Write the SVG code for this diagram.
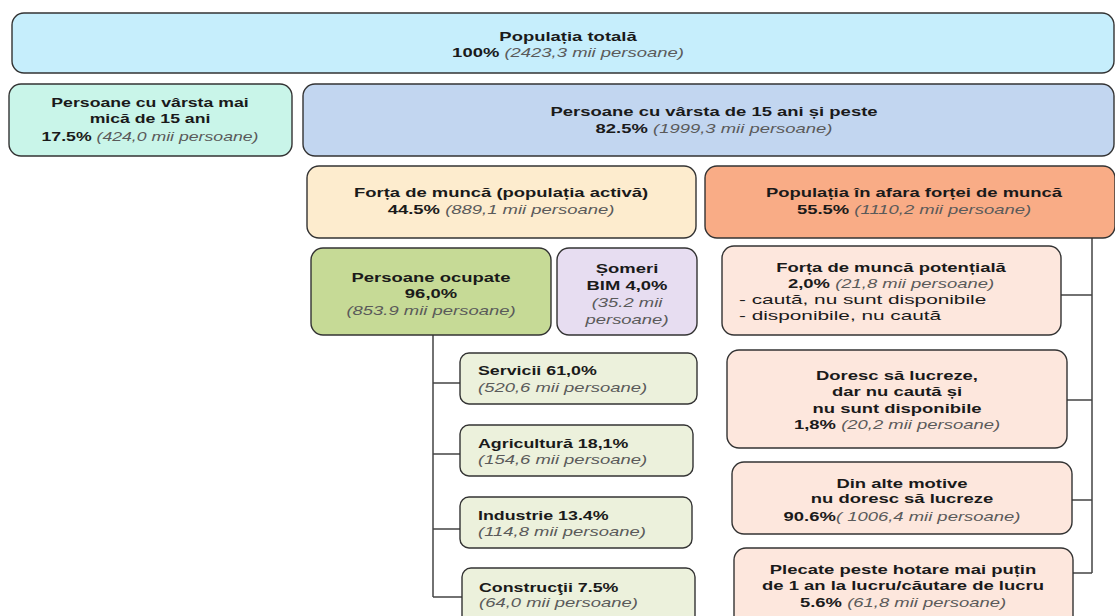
<svg xmlns="http://www.w3.org/2000/svg" width="1115" height="616" viewBox="0 0 1115 616">
<style>
.b{stroke:#333;stroke-width:1.4}
text{font-family:"Liberation Sans",Arial,sans-serif;font-size:13px;fill:#1a1a1a}
.c{text-anchor:middle}
.h{font-weight:700}
.i{font-style:italic;font-weight:400;fill:#5a5a5a}
.r{font-weight:400}
.ln{stroke:#444;stroke-width:1.5;fill:none}
</style>
<rect width="1115" height="616" fill="#fff"/>
<g id="connectors">
<path class="ln" d="M433,335 V597 M433,383 H460 M433,454 H460 M433,529 H460 M433,597 H462"/>
<path class="ln" d="M1092,238 V573 M1061,295 H1092 M1067,400 H1092 M1072,500 H1092 M1073,573 H1092"/>
</g>
<g id="total">
<rect class="b" x="12" y="13" width="1102" height="60" rx="12" fill="#c6eefc"/>
<text class="c h" transform="translate(568 41) scale(1.42 1)">Populația totală</text>
<text class="c" transform="translate(568 57) scale(1.42 1)"><tspan class="h">100%</tspan> <tspan class="i">(2423,3 mii persoane)</tspan></text>
</g>
<g id="sub15">
<rect class="b" x="9" y="84" width="283" height="72" rx="12" fill="#c9f5e9"/>
<text class="c h" transform="translate(150 107) scale(1.36 1)">Persoane cu vârsta mai</text>
<text class="c h" transform="translate(150 123) scale(1.36 1)">mică de 15 ani</text>
<text class="c" transform="translate(150 141) scale(1.36 1)"><tspan class="h">17.5%</tspan>  <tspan class="i">(424,0 mii persoane)</tspan></text>
</g>
<g id="over15">
<rect class="b" x="303" y="84" width="811" height="72" rx="12" fill="#c2d6f0"/>
<text class="c h" transform="translate(714 116) scale(1.42 1)">Persoane cu vârsta de 15 ani și peste</text>
<text class="c" transform="translate(714 133) scale(1.42 1)"><tspan class="h">82.5%</tspan> <tspan class="i">(1999,3 mii persoane)</tspan></text>
</g>
<g id="labour">
<rect class="b" x="307" y="166" width="389" height="72" rx="12" fill="#fdecce"/>
<text class="c h" transform="translate(501 197) scale(1.42 1)">Forța de muncă (populația activă)</text>
<text class="c" transform="translate(501 214) scale(1.42 1)"><tspan class="h">44.5%</tspan> <tspan class="i">(889,1 mii persoane)</tspan></text>
</g>
<g id="outside">
<rect class="b" x="705" y="166" width="410" height="72" rx="12" fill="#f9ac86"/>
<text class="c h" transform="translate(914 197) scale(1.42 1)">Populația în afara forței de muncă</text>
<text class="c" transform="translate(914 214) scale(1.42 1)"><tspan class="h">55.5%</tspan> <tspan class="i">(1110,2 mii persoane)</tspan></text>
</g>
<g id="employed">
<rect class="b" x="311" y="248" width="240" height="87" rx="12" fill="#c6da96"/>
<text class="c h" transform="translate(431 282) scale(1.42 1)">Persoane ocupate</text>
<text class="c h" transform="translate(431 298) scale(1.42 1)">96,0%</text>
<text class="c i" transform="translate(431 315) scale(1.42 1)">(853.9 mii persoane)</text>
</g>
<g id="unemployed">
<rect class="b" x="557" y="248" width="140" height="87" rx="12" fill="#e7ddf1"/>
<text class="c h" transform="translate(627 273) scale(1.42 1)">Șomeri</text>
<text class="c h" transform="translate(627 290) scale(1.42 1)">BIM 4,0%</text>
<text class="c i" transform="translate(627 307) scale(1.42 1)">(35.2 mii</text>
<text class="c i" transform="translate(627 324) scale(1.42 1)">persoane)</text>
</g>
<g id="services">
<rect class="b" x="460" y="353" width="237" height="51" rx="9" fill="#ecf1dc"/>
<text class="h" transform="translate(478 375) scale(1.37 1)">Servicii 61,0%</text>
<text class="i" transform="translate(478 392) scale(1.42 1)">(520,6 mii persoane)</text>
</g>
<g id="agriculture">
<rect class="b" x="460" y="425" width="233" height="51" rx="9" fill="#ecf1dc"/>
<text class="h" transform="translate(478 448) scale(1.37 1)">Agricultură 18,1%</text>
<text class="i" transform="translate(478 464) scale(1.42 1)">(154,6 mii persoane)</text>
</g>
<g id="industry">
<rect class="b" x="460" y="497" width="232" height="51" rx="9" fill="#ecf1dc"/>
<text class="h" transform="translate(478 520) scale(1.37 1)">Industrie 13.4%</text>
<text class="i" transform="translate(478 536) scale(1.42 1)">(114,8 mii persoane)</text>
</g>
<g id="construction">
<rect class="b" x="462" y="568" width="233" height="60" rx="9" fill="#ecf1dc"/>
<text class="h" transform="translate(479 592) scale(1.37 1)">Construcţii 7.5%</text>
<text class="i" transform="translate(479 607) scale(1.42 1)">(64,0 mii persoane)</text>
</g>
<g id="potential">
<rect class="b" x="722" y="246" width="339" height="89" rx="12" fill="#fde7dd"/>
<text class="c h" transform="translate(891 272) scale(1.42 1)">Forța de muncă potențială</text>
<text class="c" transform="translate(891 288) scale(1.42 1)"><tspan class="h">2,0%</tspan> <tspan class="i">(21,8 mii persoane)</tspan></text>
<text class="r" transform="translate(739 304) scale(1.6 1)">- caută, nu sunt disponibile</text>
<text class="r" transform="translate(739 320) scale(1.6 1)">- disponibile, nu caută</text>
</g>
<g id="wish">
<rect class="b" x="727" y="350" width="340" height="98" rx="12" fill="#fde7dd"/>
<text class="c h" transform="translate(897 380) scale(1.42 1)">Doresc să lucreze,</text>
<text class="c h" transform="translate(897 396) scale(1.42 1)">dar nu caută și</text>
<text class="c h" transform="translate(897 413) scale(1.42 1)">nu sunt disponibile</text>
<text class="c" transform="translate(897 429) scale(1.42 1)"><tspan class="h">1,8%</tspan> <tspan class="i">(20,2 mii persoane)</tspan></text>
</g>
<g id="other">
<rect class="b" x="732" y="462" width="340" height="72" rx="12" fill="#fde7dd"/>
<text class="c h" transform="translate(902 488) scale(1.42 1)">Din alte motive</text>
<text class="c h" transform="translate(902 503) scale(1.42 1)">nu doresc să lucreze</text>
<text class="c" transform="translate(902 521) scale(1.42 1)"><tspan class="h">90.6%</tspan><tspan class="i">( 1006,4 mii persoane)</tspan></text>
</g>
<g id="abroad">
<rect class="b" x="734" y="548" width="339" height="80" rx="12" fill="#fde7dd"/>
<text class="c h" transform="translate(903 574) scale(1.42 1)">Plecate peste hotare mai puțin</text>
<text class="c h" transform="translate(903 590) scale(1.42 1)">de 1 an la lucru/căutare de lucru</text>
<text class="c" transform="translate(903 607) scale(1.42 1)"><tspan class="h">5.6%</tspan> <tspan class="i">(61,8 mii persoane)</tspan></text>
</g>
</svg>
